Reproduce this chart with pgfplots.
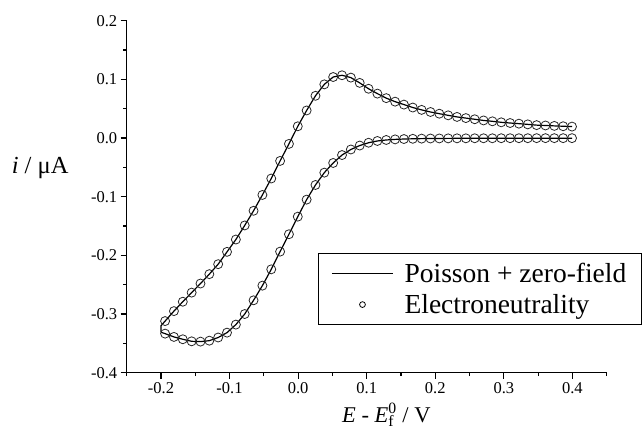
\documentclass[border=0pt]{standalone}
\usepackage{fontspec}
\setmainfont{Liberation Serif}
\usepackage{pgfplots}
\pgfplotsset{compat=1.18}
\usepackage{pgfplotstable}

\pgfplotstableread{
E i
-0.2 -0.331
-0.2 -0.320
-0.194 -0.312
-0.1811 -0.295
-0.1682 -0.279
-0.1553 -0.2635
-0.1424 -0.248
-0.1295 -0.232
-0.1166 -0.215
-0.1037 -0.194
-0.0908 -0.173
-0.0779 -0.149
-0.065 -0.124
-0.0521 -0.097
-0.0392 -0.069
-0.0263 -0.039
-0.0134 -0.010
-0.0005 0.020
0.0124 0.047
0.0253 0.072
0.0382 0.0915
0.0511 0.104
0.064 0.107
0.0769 0.103
0.0898 0.094
0.1027 0.084
0.1156 0.0757
0.1285 0.068
0.1414 0.062
0.1543 0.057
0.1672 0.052
0.1801 0.048
0.193 0.0444
0.2059 0.0415
0.2188 0.0387
0.2317 0.036
0.2446 0.034
0.2575 0.032
0.2704 0.030
0.2833 0.0285
0.2962 0.0268
0.3091 0.0256
0.322 0.0245
0.3349 0.0233
0.3478 0.022
0.3607 0.0214
0.3736 0.0207
0.3865 0.0201
0.3994 0.0195
}\fwdtab

\pgfplotstableread{
E i
0.3994 -0.0002
0.3865 -0.0002
0.3736 -0.0002
0.3607 -0.0002
0.3478 -0.0002
0.3349 -0.0003
0.322 -0.0003
0.3091 -0.0003
0.2962 -0.0003
0.2833 -0.0004
0.2704 -0.0004
0.2575 -0.0004
0.2446 -0.0005
0.2317 -0.0005
0.2188 -0.0006
0.2059 -0.0007
0.193 -0.0008
0.1801 -0.0010
0.1672 -0.0013
0.1543 -0.0017
0.1414 -0.0023
0.1285 -0.0033
0.1156 -0.0050
0.1027 -0.0080
0.0898 -0.0128
0.0769 -0.0195
0.064 -0.029
0.0511 -0.0425
0.0382 -0.059
0.0253 -0.080
0.0124 -0.105
-0.0005 -0.134
-0.0134 -0.164
-0.0263 -0.1936
-0.0392 -0.2238
-0.0521 -0.2516
-0.065 -0.2766
-0.0779 -0.300
-0.0908 -0.318
-0.1037 -0.3317
-0.1166 -0.340
-0.1295 -0.3454
-0.1424 -0.347
-0.1553 -0.3465
-0.1682 -0.343
-0.1811 -0.339
-0.194 -0.3334
-0.2 -0.331
}\revtab

\begin{document}
\begin{tikzpicture}
\begin{axis}[
  name=ax,
  scale only axis, width=480pt, height=352pt,
  xmin=-0.25, xmax=0.45, ymin=-0.4, ymax=0.2,
  axis x line*=bottom, axis y line*=left,
  axis line style={line width=1.3pt, black},
  tick align=outside,
  major tick length=6pt, minor tick length=3.5pt,
  every tick/.style={black, line width=1.1pt},
  xtick={-0.2,-0.1,0,0.1,0.2,0.3,0.4},
  ytick={-0.4,-0.3,-0.2,-0.1,0,0.1,0.2},
  minor xtick={-0.25,-0.15,-0.05,0.05,0.15,0.25,0.35,0.45},
  minor ytick={-0.35,-0.25,-0.15,-0.05,0.05,0.15},
  /pgf/number format/.cd, fixed, fixed zerofill, precision=1, assume math mode=true,
  /pgfplots/.cd,
  tick label style={font=\fontsize{16.5}{18}\selectfont},
  xlabel={\textit{E} - \textit{E}\rlap{\textsubscript{f}}\raisebox{1.5pt}{\textsuperscript{0}} / V},
  ylabel={\textit{i} / μA},
  every axis x label/.style={at={(axis description cs:0.541,0)}, anchor=base, yshift=-50pt,
    font=\fontsize{22.5}{26}\selectfont},
  every axis y label/.style={at={(axis description cs:0,0.567)}, anchor=base east, xshift=-54.7pt,
    font=\fontsize{24.5}{28}\selectfont},
  legend style={at={(0.3985,0.340)}, anchor=north west, draw=black, line width=0.8pt,
    fill=white, font=\fontsize{27.5}{30}\selectfont, inner xsep=13pt, inner ysep=8pt,
    row sep=6pt, nodes={inner sep=2pt},
    /tikz/every odd column/.append style={column sep=9pt}},
  legend cell align=left,
  clip=false,
]
\addplot[black, line width=1.2pt, no markers,
  legend image code/.code={\draw[draw=black, line width=1.2pt] (0pt,0pt) -- (61pt,0pt);}]
  table[x=E, y=i] {\revtab};
\addlegendentry{Poisson + zero-field}
\addplot[only marks, mark=o, mark size=4.5pt, mark options={line width=0.8pt, draw=black!85},
  restrict x to domain=-0.199:0.5,
  legend image code/.code={\path[draw=none] (0pt,0pt) -- (61pt,0pt); \draw[draw=black, fill=none, line width=0.8pt] (30.5pt,0pt) circle[radius=2.9pt];}]
  table[x=E, y=i] {\fwdtab};
\addlegendentry{Electroneutrality}
\addplot[black, line width=1.2pt, no markers, forget plot] table[x=E, y=i] {\fwdtab};
\addplot[only marks, mark=o, mark size=4.5pt, mark options={line width=0.8pt, draw=black!85},
  restrict x to domain=-0.199:0.5, forget plot]
  table[x=E, y=i] {\revtab};
\end{axis}
\path ([xshift=-126.7pt,yshift=-65.3pt]ax.south west) rectangle ([xshift=37.3pt,yshift=20.7pt]ax.north east);
\end{tikzpicture}
\end{document}
